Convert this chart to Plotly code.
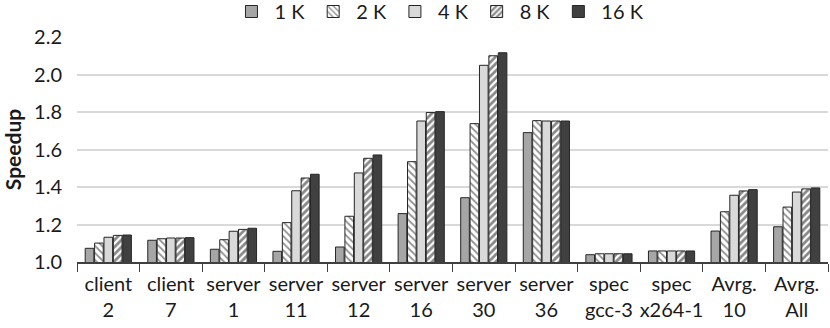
import plotly.graph_objects as go

# Benchmarks on the x axis (two-line labels)
categories = ["client<br>2", "client<br>7", "server<br>1", "server<br>11", "server<br>12",
              "server<br>16", "server<br>30", "server<br>36", "spec<br>gcc-3", "spec<br>x264-1",
              "Avrg.<br>10", "Avrg.<br>All"]

# Speedup per table size
s_1k = [1.073, 1.116, 1.068, 1.057, 1.080, 1.258, 1.343, 1.690, 1.039, 1.059, 1.165, 1.188]
s_2k = [1.101, 1.124, 1.119, 1.210, 1.244, 1.535, 1.738, 1.754, 1.044, 1.059, 1.268, 1.293]
s_4k = [1.132, 1.128, 1.164, 1.380, 1.475, 1.752, 2.049, 1.752, 1.044, 1.059, 1.356, 1.373]
s_8k = [1.142, 1.128, 1.174, 1.448, 1.553, 1.797, 2.100, 1.752, 1.044, 1.059, 1.379, 1.390]
s_16k = [1.144, 1.130, 1.180, 1.468, 1.571, 1.802, 2.116, 1.752, 1.044, 1.059, 1.386, 1.395]

series_names = ["1 K", "2 K", "4 K", "8 K", "16 K"]
y_ticks = [1.0, 1.2, 1.4, 1.6, 1.8, 2.0, 2.2]

font_family = "Lato, Open Sans, sans-serif"

# fill colour and pattern per series
styles = [
    dict(color="#a6a6a6"),
    dict(color="white", pattern=dict(shape="\\", fgcolor="#222222", bgcolor="white",
                                     size=5, solidity=0.35)),
    dict(color="#d9d9d9"),
    dict(color="white", pattern=dict(shape="/", fgcolor="#111111", bgcolor="white",
                                     size=5, solidity=0.55)),
    dict(color="#404040"),
]

fig = go.Figure()
for name, vals, st in zip(series_names, [s_1k, s_2k, s_4k, s_8k, s_16k], styles):
    marker = dict(color=st["color"], line=dict(color="#262626", width=1))
    if "pattern" in st:
        marker["pattern"] = st["pattern"]
    fig.add_trace(go.Bar(name=name, x=categories, y=vals, base=0, marker=marker))

fig.update_layout(
    width=830, height=328,
    margin=dict(l=77, r=2, t=37, b=66, autoexpand=False),
    plot_bgcolor="white", paper_bgcolor="white",
    barmode="group", bargap=0.25, bargroupgap=0.08,
    font=dict(family=font_family, size=19, color="#1a1a1a"),
    legend=dict(orientation="h", x=0.482, xanchor="center",
                y=1.2, yanchor="top",
                font=dict(size=20), itemwidth=36, traceorder="normal",
                bgcolor="rgba(0,0,0,0)"),
    showlegend=True,
)

fig.update_yaxes(
    range=[1.0, 2.2], tickvals=y_ticks, ticktext=[f"{v:.1f}" for v in y_ticks],
    showgrid=True, gridcolor="#d9d9d9", gridwidth=1.5, zeroline=False,
    showline=False, ticks="", ticklabelstandoff=14, tickfont=dict(size=20),
    title=dict(text="<b>Speedup</b>", font=dict(size=21), standoff=10),
    automargin=False,
)

fig.update_xaxes(
    showline=True, linecolor="#404040", linewidth=1.5,
    ticks="outside", tickson="boundaries", ticklen=8, tickcolor="#404040",
    tickfont=dict(size=20), tickangle=0, ticklabelstandoff=3,
    showgrid=False, automargin=False,
)

# the page body has a default 8px margin; drop it so the chart fills the window
fig.write_html("out.html", config={"displayModeBar": False},
               post_script="document.body.style.margin = '0';")
